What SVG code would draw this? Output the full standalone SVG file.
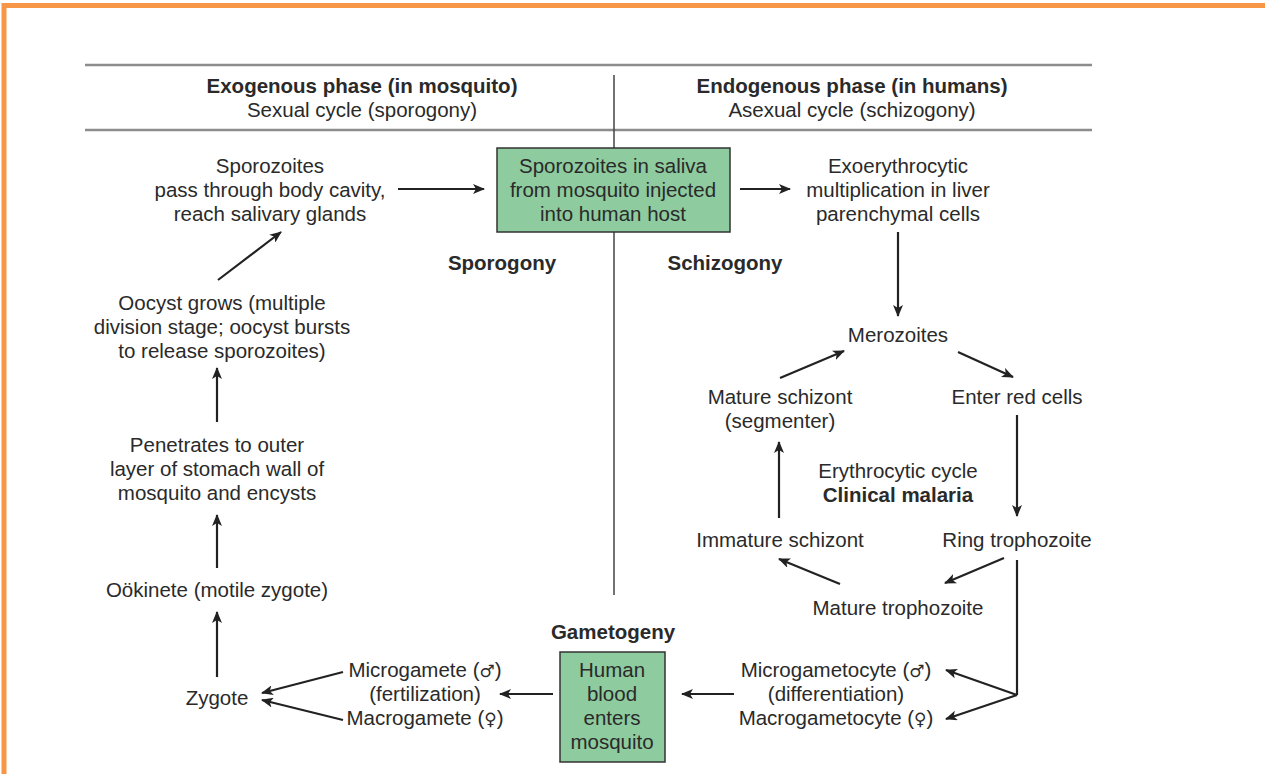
<svg xmlns="http://www.w3.org/2000/svg" width="1265" height="774" viewBox="0 0 1265 774">
<defs>
<style>
text{font-family:"Liberation Sans",Arial,sans-serif;font-size:20.5px;fill:#2a2a2a;text-anchor:middle}
.b{font-weight:bold}
.sym{font-family:"DejaVu Sans",sans-serif;font-size:17px}
.hl{stroke:#8c8c8c;stroke-width:2.5}
.c{stroke:#222;stroke-width:2.2;fill:none}
.a{marker-end:url(#ah)}
.box{fill:#8ecb9f;stroke:#333;stroke-width:1.5}
</style>
<marker id="ah" viewBox="0 0 12 10" refX="11" refY="5" markerWidth="12" markerHeight="10" markerUnits="userSpaceOnUse" orient="auto">
<path d="M0,0 L12,5 L0,10 L3,5 Z" fill="#222"/>
</marker>
</defs>
<rect x="4" y="5.5" width="1300" height="800" fill="none" stroke="#f79646" stroke-width="5"/>
<g id="header">
<line class="hl" x1="85" y1="65" x2="1092" y2="65"/>
<line class="hl" x1="85" y1="130" x2="1092" y2="130"/>
<line x1="614" y1="75" x2="614" y2="595" stroke="#444" stroke-width="1.5"/>
<text class="b" x="362" y="93">Exogenous phase (in mosquito)</text>
<text x="362" y="117">Sexual cycle (sporogony)</text>
<text class="b" x="852" y="93">Endogenous phase (in humans)</text>
<text x="852" y="117">Asexual cycle (schizogony)</text>
<text class="b" x="502" y="270">Sporogony</text>
<text class="b" x="725" y="270">Schizogony</text>
<text class="b" x="613" y="639">Gametogeny</text>
</g>
<g id="connectors">
<line class="c a" x1="398" y1="189" x2="484" y2="189"/>
<line class="c a" x1="740" y1="189" x2="790" y2="189"/>
<line class="c a" x1="898" y1="232" x2="898" y2="316"/>
<line class="c a" x1="958" y1="352" x2="1013" y2="377"/>
<line class="c a" x1="1017" y1="415" x2="1017" y2="516"/>
<line class="c a" x1="1004" y1="558" x2="945" y2="583"/>
<line class="c a" x1="840" y1="584" x2="779" y2="559"/>
<line class="c a" x1="779" y1="518" x2="779" y2="442"/>
<line class="c a" x1="780" y1="378" x2="844" y2="351"/>
<polyline class="c" points="1017,560 1017,695"/>
<line class="c a" x1="1017" y1="695" x2="946" y2="670"/>
<line class="c a" x1="1017" y1="695" x2="946" y2="719"/>
<line class="c a" x1="734" y1="694" x2="682" y2="694"/>
<line class="c a" x1="553" y1="694" x2="500" y2="694"/>
<line class="c a" x1="343" y1="672" x2="262" y2="693"/>
<line class="c a" x1="343" y1="720" x2="262" y2="700"/>
<line class="c a" x1="217" y1="677" x2="217" y2="612"/>
<line class="c a" x1="217" y1="568" x2="217" y2="515"/>
<line class="c a" x1="217" y1="422" x2="217" y2="368"/>
<line class="c a" x1="218" y1="280" x2="281" y2="232"/>
</g>
<g id="n-injected">
<rect class="box" x="497" y="148" width="233" height="84"/>
<text x="613" y="173">Sporozoites in saliva</text>
<text x="613" y="197">from mosquito injected</text>
<text x="613" y="221">into human host</text>
</g>
<g id="n-salivary">
<text x="270" y="173">Sporozoites</text>
<text x="270" y="197">pass through body cavity,</text>
<text x="270" y="221">reach salivary glands</text>
</g>
<g id="n-liver">
<text x="898" y="173">Exoerythrocytic</text>
<text x="898" y="197">multiplication in liver</text>
<text x="898" y="221">parenchymal cells</text>
</g>
<g id="n-merozoites"><text x="898" y="342">Merozoites</text></g>
<g id="n-enter"><text x="1017" y="404">Enter red cells</text></g>
<g id="n-ring"><text x="1017" y="547">Ring trophozoite</text></g>
<g id="n-maturetroph"><text x="898" y="615">Mature trophozoite</text></g>
<g id="n-immature"><text x="780" y="547">Immature schizont</text></g>
<g id="n-mature-schizont">
<text x="780" y="404">Mature schizont</text>
<text x="780" y="428">(segmenter)</text>
</g>
<g id="n-cycle">
<text x="898" y="478">Erythrocytic cycle</text>
<text class="b" x="898" y="502">Clinical malaria</text>
</g>
<g id="n-gametocytes">
<text x="836" y="677">Microgametocyte (<tspan class="sym">♂</tspan>)</text>
<text x="836" y="701">(differentiation)</text>
<text x="836" y="725">Macrogametocyte (<tspan class="sym">♀</tspan>)</text>
</g>
<g id="n-blood">
<rect class="box" x="560" y="652" width="105" height="110"/>
<text x="612" y="677">Human</text>
<text x="612" y="701">blood</text>
<text x="612" y="725">enters</text>
<text x="612" y="749">mosquito</text>
</g>
<g id="n-gametes">
<text x="425" y="677">Microgamete (<tspan class="sym">♂</tspan>)</text>
<text x="425" y="701">(fertilization)</text>
<text x="425" y="725">Macrogamete (<tspan class="sym">♀</tspan>)</text>
</g>
<g id="n-zygote"><text x="217" y="705">Zygote</text></g>
<g id="n-ookinete"><text x="217" y="597">Oökinete (motile zygote)</text></g>
<g id="n-penetrates">
<text x="217" y="452">Penetrates to outer</text>
<text x="217" y="476">layer of stomach wall of</text>
<text x="217" y="500">mosquito and encysts</text>
</g>
<g id="n-oocyst">
<text x="222" y="310">Oocyst grows (multiple</text>
<text x="222" y="334">division stage; oocyst bursts</text>
<text x="222" y="358">to release sporozoites)</text>
</g>
</svg>
